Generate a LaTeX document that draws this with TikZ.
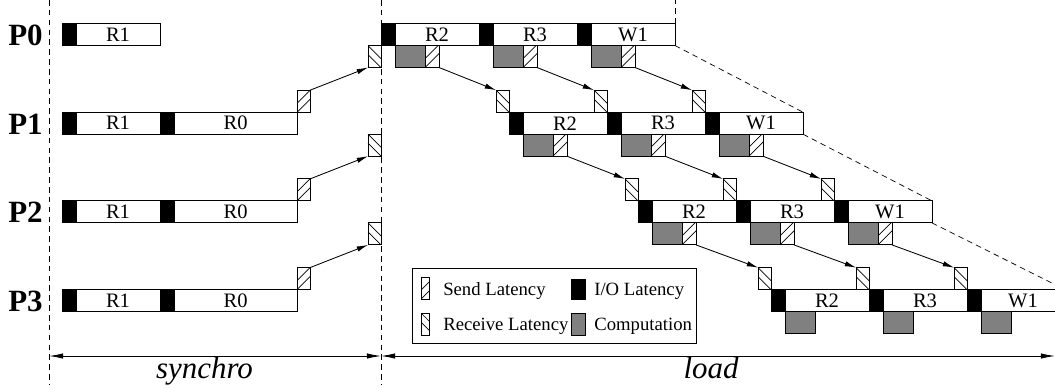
\documentclass[tikz,border=0pt]{standalone}
\usepackage{fontspec}
\setmainfont{Liberation Serif}
\usetikzlibrary{arrows.meta,positioning}

\tikzset{
	blk/.style={draw, line width=0.6pt, inner sep=0pt, outer sep=0pt, anchor=north west, minimum height=0.55cm},
	iolat/.style={blk, fill=black, minimum width=0.35cm},
	task/.style={blk, fill=white, font=\fontsize{14.6}{16}\selectfont},
	comp/.style={blk, fill=black!50, minimum width=0.75cm},
	sendlat/.style={blk, fill=white, minimum width=0.35cm, path picture={
		\foreach \k in {0cm,0.225cm} \draw[line width=0.5pt] ([yshift=\k]path picture bounding box.south west) -- ++(0.6cm,0.6cm);}},
	recvlat/.style={blk, fill=white, minimum width=0.325cm, path picture={
		\foreach \k in {0cm,0.225cm} \draw[line width=0.5pt] ([yshift=-\k]path picture bounding box.north west) -- ++(0.6cm,-0.6cm);}},
	proc/.style={font=\fontsize{22}{24}\selectfont\bfseries, anchor=base, inner sep=0pt},
	phase/.style={font=\fontsize{22}{24}\selectfont\itshape, anchor=base, inner sep=0pt},
	legtext/.style={font=\fontsize{13.3}{15}\selectfont, anchor=base west, inner sep=0pt},
	dashline/.style={line width=0.5pt, dash pattern=on 4pt off 3pt},
	msg/.style={->, line width=0.6pt},
}

\begin{document}
\begin{tikzpicture}[x=0.025cm, y=-0.025cm, >={Latex[length=8pt,width=3.8pt]}]
\useasboundingbox (0,0) rectangle (1055,389);

% phase limits
\draw[dashline] (49,0) -- (49,385);
\draw[dashline] (381,0) -- (381,385);

% synchro phase
\foreach \i in {0,...,3}{
	\pgfmathsetmacro\rowy{23.5+88.7*\i}
	\node[proc] (p\i) at (25.5,{\rowy+22}) {P\i};
	\node[iolat] (a\i) at (62,\rowy) {};
	\node[task, minimum width=2.1cm] (ra\i) at (a\i.north east) {R1};
	\ifnum\i>0
		\node[iolat] (b\i) at (ra\i.north east) {};
		\node[task, minimum width=3.075cm] (rb\i) at (b\i.north east) {R0};
		\node[sendlat, anchor=south west, minimum width=0.325cm] (ss\i) at (rb\i.north east) {};
		\node[recvlat, anchor=north east] (sr\i) at (381,{\rowy-66.7}) {};
		\draw[msg] (ss\i.north east) -- (sr\i.south west);
	\fi
}

% load phase
\foreach \i/\bx in {0/381,1/509,2/638,3/771}{
	\pgfmathsetmacro\rowy{23.5+88.7*\i}
	\foreach \j/\lab in {0/R2,1/R3,2/W1}{
		\pgfmathsetmacro\segx{\bx+98*\j}
		\node[iolat] (io\i\j) at (\segx,\rowy) {};
		\node[task, minimum width=2.1cm] (t\i\j) at (io\i\j.north east) {\lab};
		\node[comp] (c\i\j) at (io\i\j.south east) {};
		\ifnum\i<3 \node[sendlat] (s\i\j) at (c\i\j.north east) {}; \fi
		\ifnum\i>0 \node[recvlat, anchor=south east] (r\i\j) at (io\i\j.north west) {}; \fi
	}
}
\foreach \i in {0,1,2}{
	\pgfmathtruncatemacro\nxt{\i+1}
	\foreach \j in {0,1,2} \draw[msg] (s\i\j.south east) -- (r\nxt\j.north west);
}

% end of each row
\draw[dashline] (t02.north east) -- (t02.north east |- 0,0);
\draw[dashline] (t02.south east) -- (t12.north east)
	(t12.south east) -- (t22.north east)
	(t22.south east) -- (t32.north east);

% legend
\node[blk, minimum width=7.1cm, minimum height=1.875cm] (leg) at (412,268) {};
\node[sendlat, minimum width=0.22cm] (lsend) at (421,277) {};
\node[iolat, minimum height=0.5cm] (lio) at (571,279) {};
\node[recvlat, minimum width=0.22cm] (lrecv) at (421,313) {};
\node[comp, minimum width=0.35cm] (lcomp) at (571,313) {};
\node[legtext] (tsend) at (443,295) {Send Latency};
\node[legtext] (tio) at (594,295) {I/O Latency};
\node[legtext] (trecv) at (443,330) {Receive Latency};
\node[legtext] (tcomp) at (594,330) {Computation};

% phases
\coordinate (sync-l) at (49,356);
\coordinate (sync-r) at (381,356);
\coordinate (load-r) at (1055,356);
\draw[<->, line width=0.6pt, >={Latex[length=10pt,width=3.8pt]}] (sync-l) -- (sync-r);
\draw[<->, line width=0.6pt, >={Latex[length=10pt,width=3.8pt]}] (sync-r) -- (load-r);
\node[phase] (synchro) at (204.5,378) {synchro};
\node[phase] (load) at (711,378) {load};
\end{tikzpicture}
\end{document}
